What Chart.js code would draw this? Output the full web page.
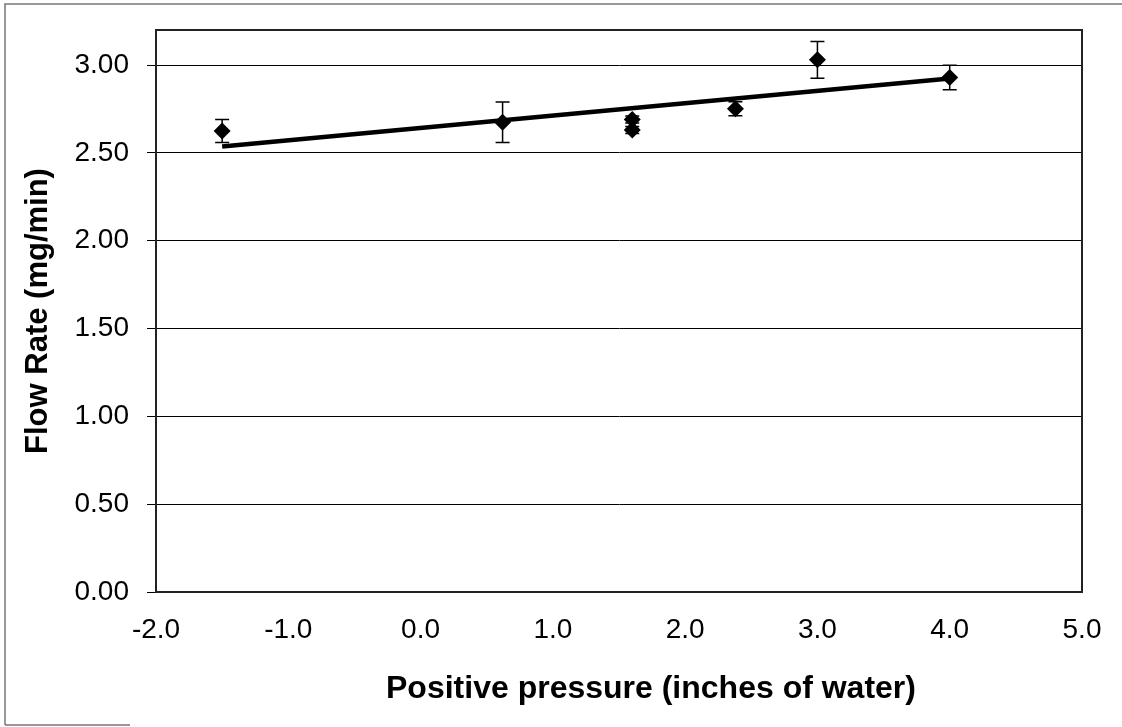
<!DOCTYPE html>
<html>
<head>
<meta charset="utf-8">
<script src="https://cdn.jsdelivr.net/npm/chart.js@4"></script>
<style>
  html, body { margin: 0; padding: 0; background: #fff; }
  #wrap { width: 1122px; height: 727px; position: relative; }
</style>
</head>
<body>
<div id="wrap"><canvas id="flowChart" width="1122" height="727"></canvas></div>
<script>
// measured points (pressure, flow rate) and their error bars
const pressure = [-1.5, 0.62, 1.6, 1.6, 2.38, 3.0, 4.0];
const flowRate = [2.625, 2.675, 2.69, 2.63, 2.752, 3.03, 2.93];
const flowErr  = [0.065, 0.115, 0.02, 0.02, 0.04, 0.105, 0.07];

// linear trendline endpoints
const trendX = [-1.5, 4.0];
const trendY = [2.536, 2.924];

const xTicks = [-2, -1, 0, 1, 2, 3, 4, 5];
const yTicks = [0, 0.5, 1, 1.5, 2, 2.5, 3];

const xTitle = "Positive pressure (inches of water)";
const yTitle = "Flow Rate (mg/min)";

const font = "'Liberation Sans', Arial, sans-serif";

// error bars drawn through the scales
const errorBars = {
  id: "errorBars",
  afterDatasetsDraw(chart) {
    const { ctx, scales: { x, y } } = chart;
    ctx.save();
    ctx.strokeStyle = "#000";
    ctx.lineWidth = 1.5;
    pressure.forEach((p, i) => {
      const px = x.getPixelForValue(p);
      const top = y.getPixelForValue(flowRate[i] + flowErr[i]);
      const bot = y.getPixelForValue(flowRate[i] - flowErr[i]);
      ctx.beginPath();
      ctx.moveTo(px, top); ctx.lineTo(px, bot);
      ctx.moveTo(px - 7, top); ctx.lineTo(px + 7, top);
      ctx.moveTo(px - 7, bot); ctx.lineTo(px + 7, bot);
      ctx.stroke();
    });
    ctx.restore();
  }
};

// outer frame, plot border and the x title (Excel sets it off-centre)
const frame = {
  id: "frame",
  afterDraw(chart) {
    const { ctx, chartArea: a } = chart;
    ctx.save();
    ctx.strokeStyle = "#777";
    ctx.lineWidth = 1.5;
    ctx.beginPath();
    ctx.moveTo(5, 725); ctx.lineTo(5, 4); ctx.lineTo(1122, 4);
    ctx.moveTo(5, 725); ctx.lineTo(130, 725);
    ctx.stroke();
    ctx.strokeStyle = "#222";
    ctx.lineWidth = 2;
    ctx.strokeRect(a.left, a.top, a.right - a.left, a.bottom - a.top);
    ctx.fillStyle = "#000";
    ctx.font = "bold 32px " + font;
    ctx.textAlign = "center";
    ctx.textBaseline = "middle";
    ctx.fillText(xTitle, 651, 689);
    ctx.restore();
  }
};

new Chart(document.getElementById("flowChart"), {
  type: "scatter",
  data: {
    datasets: [
      {
        label: "Flow rate",
        data: pressure.map((p, i) => ({ x: p, y: flowRate[i] })),
        pointStyle: "rectRot",
        pointRadius: 8.5,
        backgroundColor: "#000",
        borderColor: "#000",
        borderWidth: 0,
        order: 1
      },
      {
        label: "Linear fit",
        type: "line",
        data: trendX.map((p, i) => ({ x: p, y: trendY[i] })),
        borderColor: "#000",
        borderWidth: 4.5,
        pointRadius: 0,
        fill: false,
        order: 2
      }
    ]
  },
  options: {
    responsive: false,
    animation: false,
    devicePixelRatio: 1,
    layout: { padding: { top: 30, right: 40, left: 20, bottom: 0 } },
    plugins: { legend: { display: false }, tooltip: { enabled: false } },
    scales: {
      x: {
        type: "linear",
        min: -2, max: 5,
        afterBuildTicks: s => { s.ticks = xTicks.map(v => ({ value: v })); },
        afterFit: s => { s.height = 135; s.paddingLeft = 0; s.paddingRight = 0; },
        grid: { display: false, drawTicks: true, tickLength: 9, tickColor: "#000" },
        border: { display: true, color: "#000", width: 1 },
        ticks: {
          color: "#000",
          padding: 12,
          maxRotation: 0,
          font: { family: font, size: 28 },
          callback: v => v.toFixed(1)
        }
      },
      y: {
        type: "linear",
        min: 0, max: 3.2,
        afterBuildTicks: s => { s.ticks = yTicks.map(v => ({ value: v })); },
        afterFit: s => { s.width = 136; s.paddingTop = 0; s.paddingBottom = 0; },
        grid: { color: "#000", lineWidth: 1, drawTicks: true, tickLength: 9, tickColor: "#000" },
        border: { display: true, color: "#000", width: 1 },
        ticks: {
          color: "#000",
          padding: 18,
          font: { family: font, size: 28 },
          callback: v => v.toFixed(2)
        },
        title: {
          display: true,
          text: yTitle,
          color: "#000",
          font: { family: font, size: 31, weight: "bold" },
          padding: { top: 0, bottom: 0 }
        }
      }
    }
  },
  plugins: [errorBars, frame]
});
</script>
</body>
</html>
